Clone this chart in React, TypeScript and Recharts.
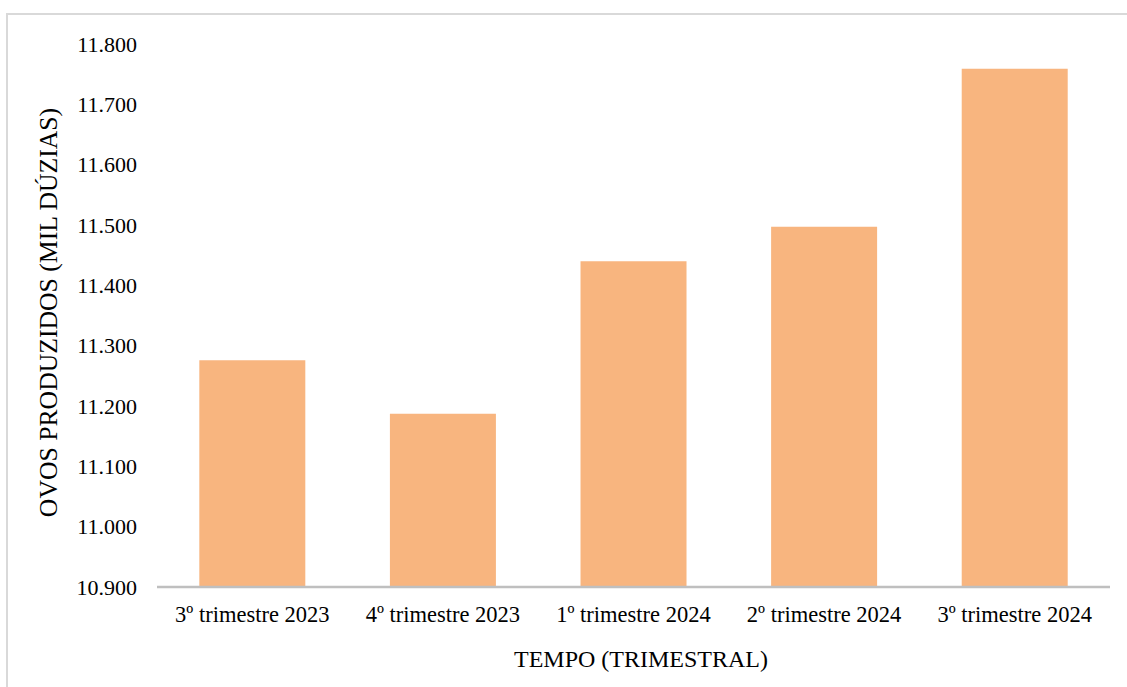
import React from 'react';
import { BarChart, Bar, XAxis, YAxis, Label } from 'recharts';

// Quarterly egg production (thousand dozen)
const quarters = [
  '3º trimestre 2023',
  '4º trimestre 2023',
  '1º trimestre 2024',
  '2º trimestre 2024',
  '3º trimestre 2024',
];
const eggs = [11276, 11187, 11440, 11497, 11759];
const yTicks = [10900, 11000, 11100, 11200, 11300, 11400, 11500, 11600, 11700, 11800];

const data = quarters.map((q, i) => ({ quarter: q, ovos: eggs[i] }));

const FONT = '"Liberation Serif", "Times New Roman", serif';
const BAR_COLOR = '#F8B57F';

const fmt = (v: number) => v.toLocaleString('de-DE');

export default function App() {
  return (
    <div
      style={{
        position: 'fixed',
        left: 0,
        top: 0,
        width: 1127,
        height: 687,
        overflow: 'hidden',
        background: '#ffffff',
      }}
    >
      <div style={{ position: 'absolute', left: 0, top: 0 }}>
        <BarChart
          width={1127}
          height={687}
          data={data}
          margin={{ top: 44, right: 17, bottom: 40, left: 0 }}
          barCategoryGap="22.2%"
        >
          <YAxis
            width={157}
            domain={[10900, 11800]}
            ticks={yTicks}
            tickFormatter={fmt}
            axisLine={false}
            tickLine={false}
            tickSize={6}
            tickMargin={14}
            interval={0}
            allowDataOverflow
            tick={{ fill: '#000000', fontSize: 22, fontFamily: FONT }}
          >
            <Label
              content={(props: any) => {
                const vb = props.viewBox || { x: 0, y: 44, width: 157, height: 543 };
                const cx = vb.x + 48;
                const cy = vb.y + vb.height / 2 - 3;
                return (
                  <text
                    x={cx}
                    y={cy}
                    transform={`rotate(-90 ${cx} ${cy})`}
                    textAnchor="middle"
                    dominantBaseline="central"
                    fontFamily={FONT}
                    fontSize={25.7}
                    fill="#000000"
                  >
                    OVOS PRODUZIDOS (MIL DÚZIAS)
                  </text>
                );
              }}
            />
          </YAxis>
          <XAxis
            dataKey="quarter"
            height={60}
            interval={0}
            axisLine={{ stroke: '#bfbfbf', strokeWidth: 2.5 }}
            tickLine={false}
            tickSize={6}
            tickMargin={13}
            tick={{ fill: '#000000', fontSize: 22.5, fontFamily: FONT }}
          >
            <Label
              content={(props: any) => {
                const vb = props.viewBox || { x: 157, y: 587, width: 953, height: 60 };
                return (
                  <text
                    x={vb.x + vb.width / 2 + 7.5}
                    y={vb.y + 80}
                    textAnchor="middle"
                    fontFamily={FONT}
                    fontSize={24}
                    fill="#000000"
                  >
                    TEMPO (TRIMESTRAL)
                  </text>
                );
              }}
            />
          </XAxis>
          <Bar dataKey="ovos" fill={BAR_COLOR} isAnimationActive={false} />
        </BarChart>
      </div>
      {/* light frame around the chart area */}
      <div
        style={{
          position: 'absolute',
          left: 6,
          top: 13,
          width: 1300,
          height: 900,
          borderTop: '2px solid #d9d9d9',
          borderLeft: '2px solid #d9d9d9',
          pointerEvents: 'none',
        }}
      />
    </div>
  );
}
